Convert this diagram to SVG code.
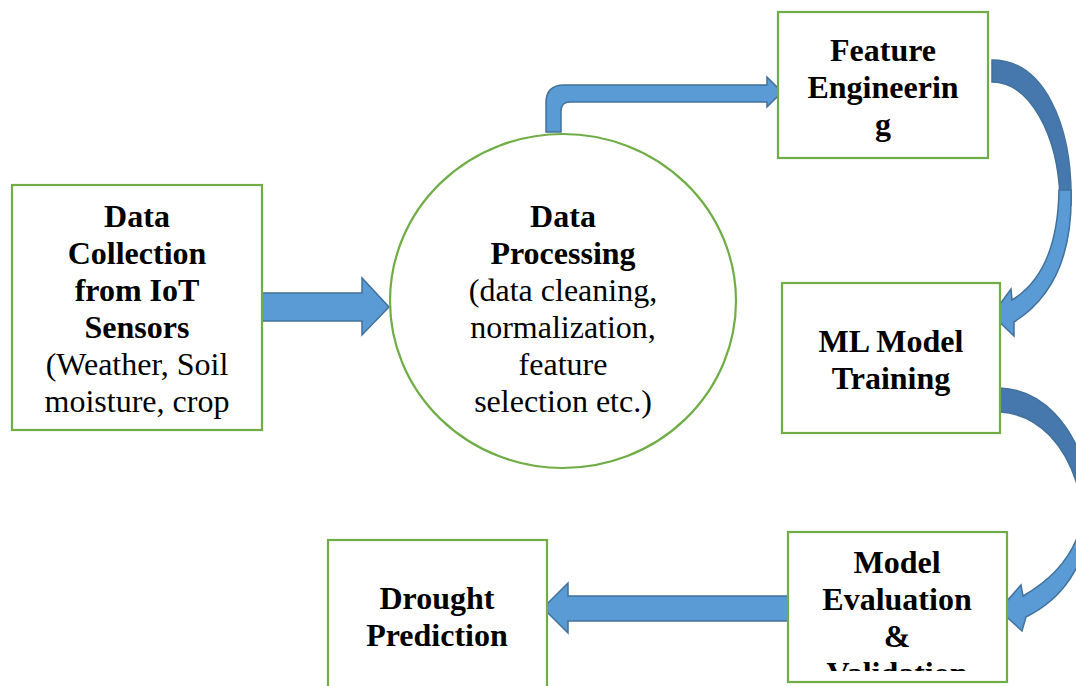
<svg xmlns="http://www.w3.org/2000/svg" width="1076" height="686" viewBox="0 0 1076 686">
  <style>
    .box { fill: #ffffff; stroke: #70ad47; stroke-width: 2.2; }
    .arrow { fill: #5b9bd5; stroke: #41719c; stroke-width: 1.5; stroke-linejoin: miter; }
    .arrow-back { fill: #4778ad; stroke: #41719c; stroke-width: 1.5; }
    text { font-family: "Liberation Serif", "Times New Roman", serif; font-size: 32px; fill: #000000; text-anchor: middle; }
    .b { font-weight: bold; }
  </style>
  <defs>
    <clipPath id="evalClip">
      <rect x="789" y="533" width="217" height="138"/>
    </clipPath>
  </defs>

  <!-- connectors -->
  <g id="connectors">
    <!-- collection -> processing -->
    <path class="arrow" d="M262 293 L362 293 L362 278 L389 307 L362 335 L362 321 L262 321 Z"/>
    <!-- processing -> feature engineering (bent arrow) -->
    <path class="arrow" d="M546 132 L546 103 Q546 85 564 85 L767 85 L767 77 L782 92 L767 107 L767 102 L570 102 Q561 102 561 111 L561 132 Z"/>
    <!-- feature engineering -> ML training (curved) -->
    <path class="arrow-back" d="M992 60 C1044 60 1073 125 1071 205 L1060 198 C1058 135 1030 82 992 82 Z"/>
    <path class="arrow" d="M1059 190 L1071 190 C1073 255 1052 298 1014 322 L1014 336 L992 315 L1011 289 L1012 300 C1040 283 1058 250 1059 190 Z"/>
    <!-- ML training -> evaluation (curved) -->
    <path class="arrow-back" d="M1000 388 C1040 390 1075 420 1092 490 L1080 495 C1068 445 1038 414 1000 412 Z"/>
    <path class="arrow" d="M1085 500 C1083 545 1060 575 1023 596 L1021 585 L999 610 L1022 631 L1026 617 C1060 600 1086 570 1092 510 Z"/>
    <!-- evaluation -> drought prediction -->
    <path class="arrow" d="M790 596 L568 596 L568 583 L543 608 L568 633 L568 621 L790 621 Z"/>
  </g>

  <g id="node-collection">
    <rect class="box" x="12" y="185" width="250" height="245"/>
    <text class="b" x="137" y="227">Data</text>
    <text class="b" x="137" y="264">Collection</text>
    <text class="b" x="137" y="301">from IoT</text>
    <text class="b" x="137" y="338">Sensors</text>
    <text x="137" y="375">(Weather, Soil</text>
    <text x="137" y="412">moisture, crop</text>
  </g>

  <g id="node-processing">
    <ellipse class="box" cx="563" cy="301" rx="173" ry="167"/>
    <text class="b" x="563" y="227">Data</text>
    <text class="b" x="563" y="264">Processing</text>
    <text x="563" y="301">(data cleaning,</text>
    <text x="563" y="338">normalization,</text>
    <text x="563" y="375">feature</text>
    <text x="563" y="412">selection etc.)</text>
  </g>

  <g id="node-feature">
    <rect class="box" x="778" y="12" width="210" height="146"/>
    <text class="b" x="883" y="61">Feature</text>
    <text class="b" x="883" y="98">Engineerin</text>
    <text class="b" x="883" y="135">g</text>
  </g>

  <g id="node-training">
    <rect class="box" x="782" y="283" width="218" height="150"/>
    <text class="b" x="891" y="352">ML Model</text>
    <text class="b" x="891" y="389">Training</text>
  </g>

  <g id="node-evaluation">
    <rect class="box" x="788" y="532" width="219" height="150"/>
    <!-- last line runs past the box and is cut at its inner edge -->
    <g clip-path="url(#evalClip)">
      <text class="b" x="897" y="573">Model</text>
      <text class="b" x="897" y="610">Evaluation</text>
      <text class="b" x="897" y="647">&amp;</text>
      <text class="b" x="897" y="684">Validation</text>
    </g>
  </g>

  <g id="node-drought">
    <rect class="box" x="328" y="540" width="219" height="160"/>
    <text class="b" x="437" y="609">Drought</text>
    <text class="b" x="437" y="646">Prediction</text>
  </g>
</svg>
